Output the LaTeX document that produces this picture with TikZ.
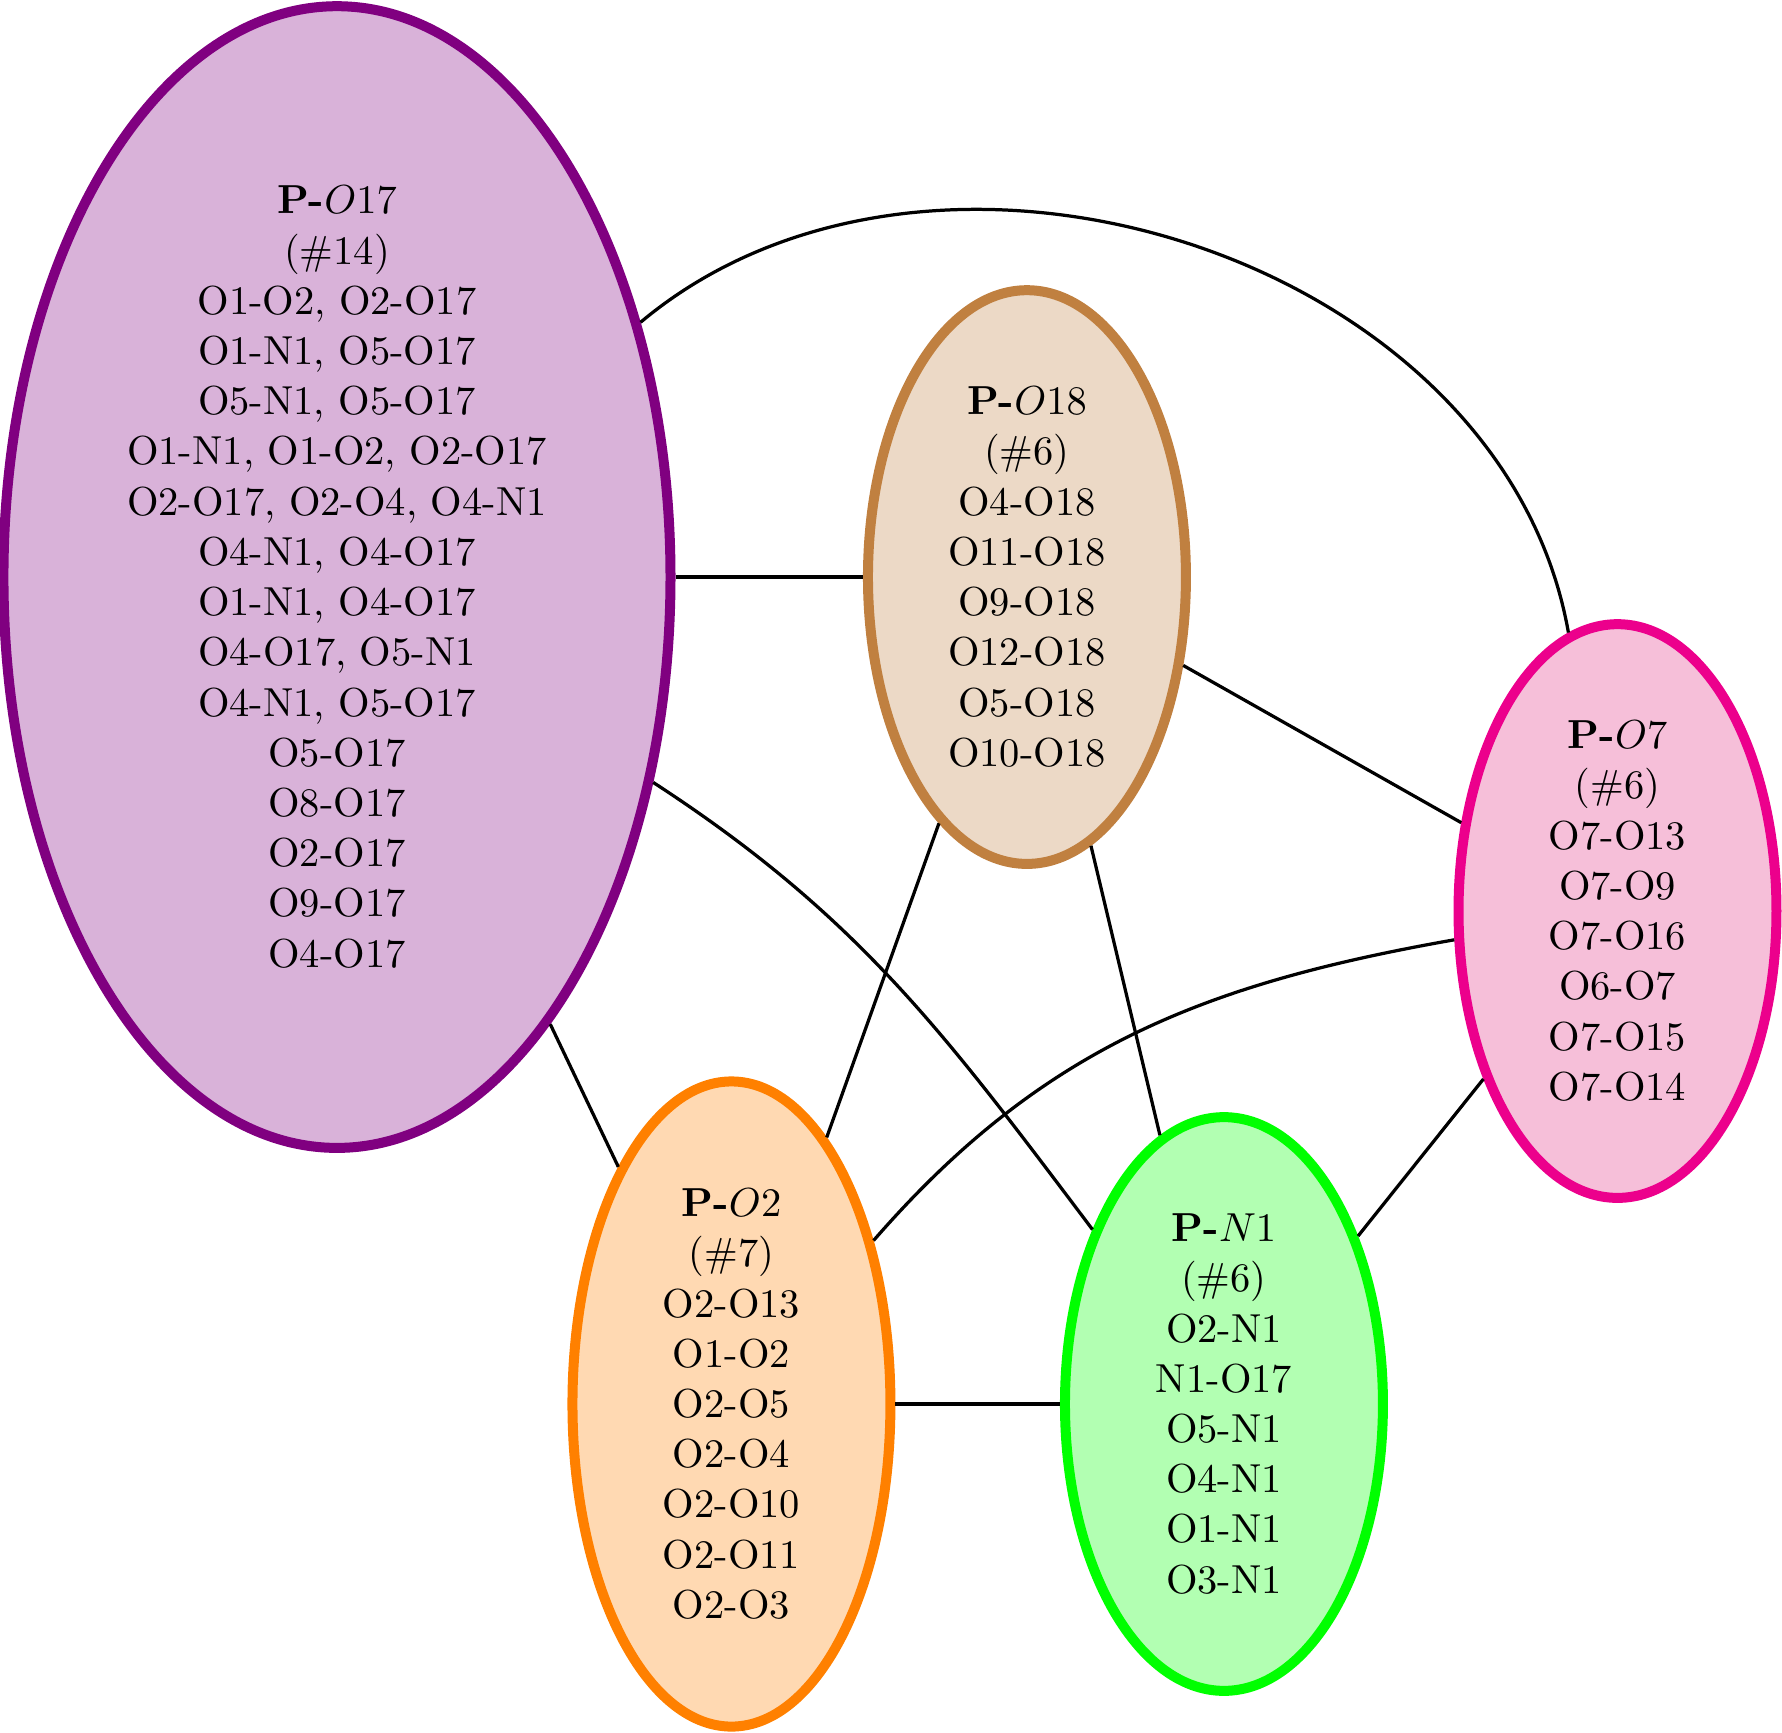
\documentclass[tikz,border=0pt]{standalone}
\usepackage{amsmath,amssymb}
\usepackage{xcolor}
\usepackage{tikz}
\usetikzlibrary{shapes.geometric, positioning, calc}
\definecolor{grpPurple}{HTML}{800080}
\definecolor{grpBrown}{HTML}{C08040}
\definecolor{grpMagenta}{HTML}{EC008C}
\definecolor{grpMagentaFill}{HTML}{F6BFD9}
\definecolor{grpOrange}{HTML}{FF8000}
\definecolor{grpGreen}{HTML}{00FF00}

\begin{document}
\begin{tikzpicture}[
    group/.style={ellipse, line width=2.47pt, inner sep=0pt, align=center,
      minimum width=2.76cm, minimum height=4.98cm, font=\fontsize{10}{12.4}\selectfont},
    link/.style={thick, black}
  ]
  \useasboundingbox (0,0) rectangle (15.468,15.034);

  \node[group, draw=grpPurple, fill=grpPurple!30, minimum width=5.79cm, minimum height=9.91cm] (pO17) at (2.925,10.025)
    {\textbf{P-}$O17$\\(\#14)\\O1-O2, O2-O17\\O1-N1, O5-O17\\O5-N1, O5-O17\\O1-N1, O1-O2, O2-O17\\O2-O17, O2-O4, O4-N1\\O4-N1, O4-O17\\O1-N1, O4-O17\\O4-O17, O5-N1\\O4-N1, O5-O17\\O5-O17\\O8-O17\\O2-O17\\O9-O17\\O4-O17};
  \node[group, draw=grpBrown, fill=grpBrown!30] (pO18) at (8.914,10.025)
    {\textbf{P-}$O18$\\(\#6)\\O4-O18\\O11-O18\\O9-O18\\O12-O18\\O5-O18\\O10-O18};
  \node[group, draw=grpMagenta, fill=grpMagentaFill] (pO7) at (14.04,7.126)
    {\textbf{P-}$O7$\\(\#6)\\O7-O13\\O7-O9\\O7-O16\\O6-O7\\O7-O15\\O7-O14};
  \node[group, draw=grpOrange, fill=grpOrange!30, minimum height=5.6cm] (pO2) at (6.349,2.847)
    {\textbf{P-}$O2$\\(\#7)\\O2-O13\\O1-O2\\O2-O5\\O2-O4\\O2-O10\\O2-O11\\O2-O3};
  \node[group, draw=grpGreen, fill=grpGreen!30] (pN1) at (10.624,2.847)
    {\textbf{P-}$N1$\\(\#6)\\O2-N1\\N1-O17\\O5-N1\\O4-N1\\O1-N1\\O3-N1};

  \draw[link] (pO17) -- (pO18);
  \draw[link] (pO17) -- (pO2);
  \draw[link] (pO18) -- (pO2);
  \draw[link] (pO18) -- (pN1);
  \draw[link] (pO18) -- (pO7);
  \draw[link] (pO7) -- (pN1);
  \draw[link] (pO2) -- (pN1);
  \draw[link] (pO17) to[out=40, in=100] (pO7);
  \draw[link] (pO17) to[out=-33, in=127] (pN1);
  \draw[link] (pO7) to[out=190, in=49] (pO2);
\end{tikzpicture}
\end{document}
